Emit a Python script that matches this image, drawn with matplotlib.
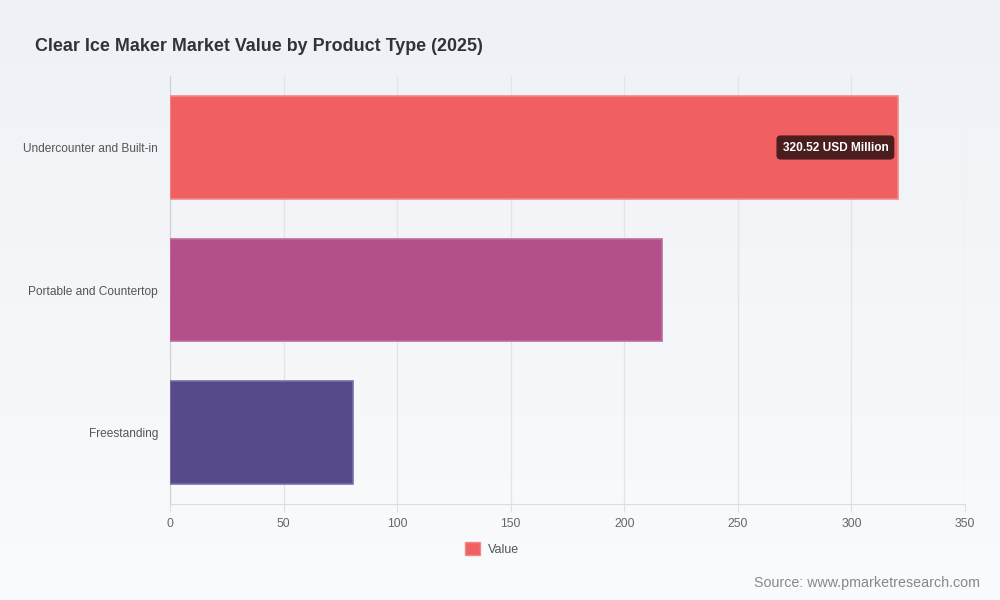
import numpy as np
import matplotlib
matplotlib.use("Agg")
import matplotlib.pyplot as plt
from matplotlib.patches import Rectangle

categories = ["Undercounter and Built-in", "Portable and Countertop", "Freestanding"]
values = [320.52, 216.8, 80.5]
colors = ["#f16060", "#b44f8c", "#564a8a"]
edge_colors = ["#f08a8a", "#c06a9c", "#7a6fa6"]
xticks = [0, 50, 100, 150, 200, 250, 300, 350]
title = "Clear Ice Maker Market Value by Product Type (2025)"
label_text = "320.52 USD Million"
source = "Source: www.pmarketresearch.com"

plt.rcParams['font.family'] = ['Liberation Sans', 'DejaVu Sans']

fig = plt.figure(figsize=(10, 6), dpi=100)

# background gradient
bg = fig.add_axes([0, 0, 1, 1], zorder=-10)
grad = np.linspace(0, 1, 256).reshape(-1, 1)
top = np.array([0xee, 0xf1, 0xf6]) / 255
bot = np.array([0xfa, 0xfb, 0xfc]) / 255
img = top[None, None, :] * (1 - grad[:, :, None]) + bot[None, None, :] * grad[:, :, None]
bg.imshow(img, aspect='auto', extent=[0, 1, 0, 1], origin='upper')
bg.axis('off')

ax = fig.add_axes([0.17, 0.16, 0.795, 0.713])
ax.set_facecolor('none')
y = np.arange(len(categories))
ax.barh(y, values, height=0.72, color=colors, edgecolor=edge_colors, linewidth=1.2, zorder=3)
ax.set_ylim(len(categories) - 0.5, -0.5)
ax.set_xlim(0, 350)
ax.set_xticks(xticks)
ax.set_xticklabels([str(t) for t in xticks], fontsize=8.8, color='#666666')
ax.set_yticks(y)
ax.set_yticklabels(categories, fontsize=8.55, color='#555555')
ax.tick_params(axis='x', length=6, color='#e0e0e0', pad=4)
ax.tick_params(axis='y', length=0, pad=8.5)
ax.grid(axis='x', color='#e2e4e8', linewidth=0.9, zorder=0)
for s in ['top', 'right']:
    ax.spines[s].set_visible(False)
ax.spines['left'].set_color('#cfcfcf')
ax.spines['bottom'].set_color('#dcdcdc')

ax.text(values[0] - 4.3, 0.0, label_text, ha='right', va='center', fontsize=8.6,
        fontweight='bold', color='white', zorder=5,
        bbox=dict(boxstyle='round,pad=0.45,rounding_size=0.3', fc='#4a1d1f', ec='#4a1d1f'))

fig.text(0.035, 0.922, title, fontsize=12.9, fontweight='bold', color='#333333', va='center')

# legend
leg = ax.legend([Rectangle((0, 0), 1, 1, fc=colors[0], ec=edge_colors[0])], ["Value"],
                loc='center', bbox_to_anchor=(0.492, 0.0855), bbox_transform=fig.transFigure,
                frameon=False, fontsize=9, handlelength=1.2, handleheight=1.2, handletextpad=0.6)
for t in leg.get_texts():
    t.set_color('#555555')

fig.text(0.98, 0.028, source, ha='right', va='center', fontsize=10.3, color='#888888')

fig.savefig("out.png", dpi=100)
